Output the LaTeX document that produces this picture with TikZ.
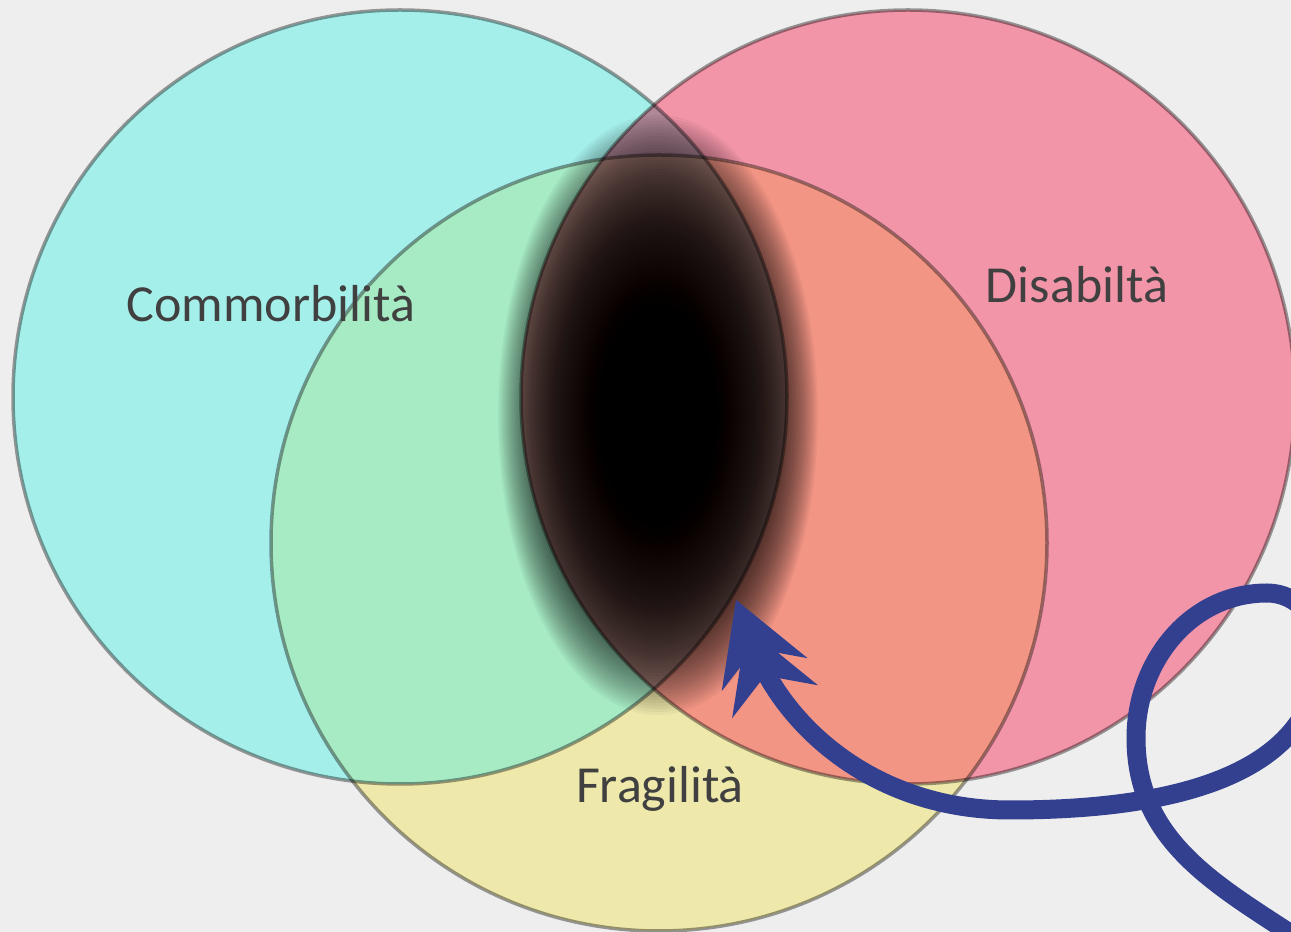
\documentclass[tikz,border=0pt]{standalone}
\usepackage{fontspec}
\setmainfont{Carlito}
\usetikzlibrary{arrows.meta}
\definecolor{bgc}{HTML}{EEEEEE}
\definecolor{cyanfill}{HTML}{A5EFEB}
\definecolor{pinkfill}{HTML}{F295A9}
\definecolor{yellowfill}{HTML}{EEE9AB}
\definecolor{greenfill}{HTML}{A7EBC5}
\definecolor{salmonfill}{HTML}{F39585}
\definecolor{mauvefill}{HTML}{B08898}
\definecolor{triplefill}{HTML}{B0857E}
\definecolor{txt}{HTML}{404040}
\definecolor{arrowblue}{HTML}{33408F}
\def\cyanc{(400,535) circle[radius=387pt]}
\def\pinkc{(908,535) circle[radius=387pt]}
\def\yellowc{(659,389) circle[radius=388pt]}
\tikzset{
  setlabel/.style={text=txt, font=\fontsize{52pt}{60pt}\selectfont, anchor=base, inner sep=0pt},
  outl/.style={draw=black, draw opacity=0.38, line width=3.5pt},
  bigarrow/.style={draw=arrowblue, line width=19pt,
    -{Stealth[length=80pt,width=92pt,inset=28pt,line width=0pt,sep=-51pt]Stealth[length=80pt,width=92pt,inset=28pt,line width=0pt]}}
}
\begin{document}
\begin{tikzpicture}[x=1pt,y=1pt]
\useasboundingbox (0,0) rectangle (1291,932);
\clip (0,0) rectangle (1291,932);
\fill[bgc] (0,0) rectangle (1291,932);
% base circles
\fill[cyanfill] \cyanc;
\fill[pinkfill] \pinkc;
\fill[yellowfill] \yellowc;
% overlaps
\begin{scope}
  \clip \cyanc;
  \fill[greenfill] \yellowc;
\end{scope}
\begin{scope}
  \clip \pinkc;
  \fill[salmonfill] \yellowc;
\end{scope}
\begin{scope}
  \clip \cyanc;
  \fill[mauvefill] \pinkc;
  \clip \pinkc;
  \fill[triplefill] \yellowc;
\end{scope}
% dark blurred core
\foreach \s in {0,...,79}{
  \fill[black, opacity=0.04] (658,517) ellipse [x radius={160pt*(1-0.01*\s)}, y radius={300pt*(1-0.01*\s)}];
}
% outlines
\draw[outl] \cyanc;
\draw[outl] \pinkc;
\draw[outl] \yellowc;
% labels
\node[setlabel] (comm) at (271,610) {Commorbilità};
\node[setlabel] (disab) at (1077,629) {Disabiltà};
\node[setlabel] (frag) at (660,129) {Fragilità};
% arrow
\coordinate (a0) at (1330,-28);
\coordinate (a1) at (1136,194);
\coordinate (a2) at (1267,339);
\coordinate (a3) at (1320,282);
\coordinate (a4) at (1010,122);
\coordinate (tip) at (736,332);
\draw[bigarrow] (a0) to[out=145,in=-90] (a1) to[out=90,in=180] (a2) to[out=0,in=90] (a3) to[out=-90,in=0] (a4) to[out=180,in=-69] (tip);
\end{tikzpicture}
\end{document}
